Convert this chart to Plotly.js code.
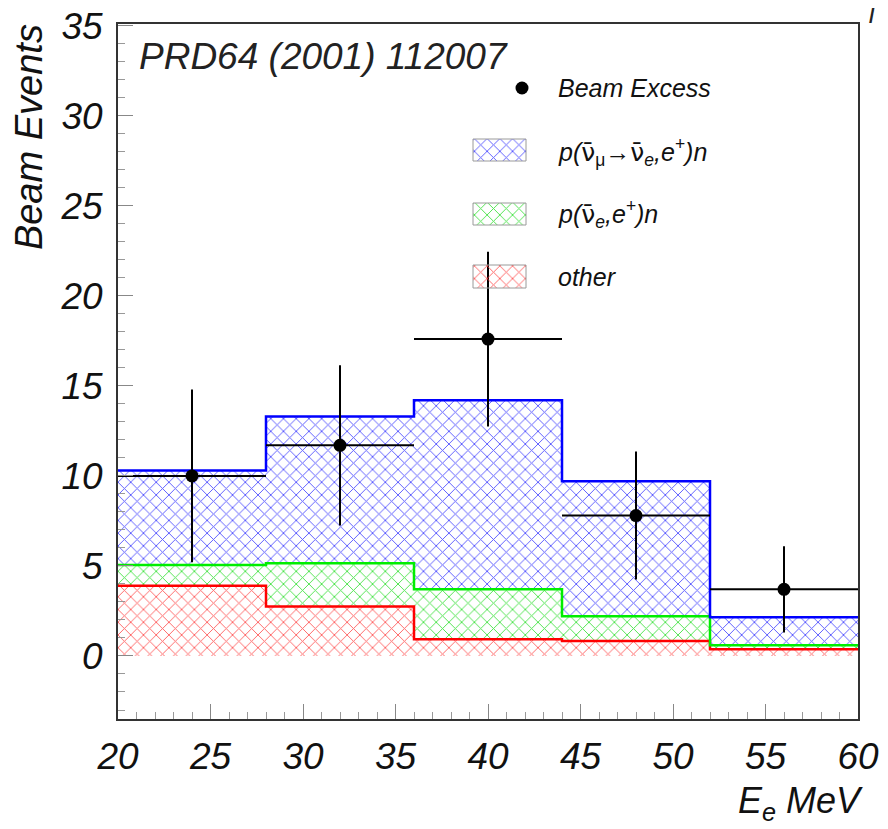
<!DOCTYPE html>
<html>
<head>
<meta charset="utf-8">
<script src="https://cdn.plot.ly/plotly-3.0.1.min.js"></script>
<style>html,body{margin:0;padding:0;background:#fff;} #plot{width:888px;height:829px;}</style>
</head>
<body>
<div id="plot"></div>
<script>
// ---- data ----
var binEdges   = [20, 28, 36, 44, 52, 60];                 // E_e bin edges, MeV
var excessE    = [24, 32, 40, 48, 56];                     // bin centres
var excessY    = [10.0, 11.7, 17.6, 7.8, 3.7];             // beam excess
var excessErr  = [4.8, 4.45, 4.85, 3.55, 2.4];             // vertical errors
var excessXErr = [4, 4, 4, 4, 4];                          // half bin widths
var totalY     = [10.3, 13.3, 14.2, 9.7, 2.15];            // p(nubar_mu->nubar_e,e+)n stacked top
var nueY       = [5.05, 5.15, 3.7, 2.2, 0.6];              // p(nubar_e,e+)n stacked top
var otherY     = [3.9, 2.75, 0.93, 0.83, 0.38];            // other
var NU = '<span style="font-family:DejaVu Sans;font-style:normal">\u03BD\u0304</span>';
var labels = ['Beam Excess',
  'p(' + NU + '<sub><span style="font-style:normal">\u03BC</span></sub>\u2192' + NU + '<sub>e</sub>,e<sup>+</sup>)n',
  'p(' + NU + '<sub>e</sub>,e<sup>+</sup>)n',
  'other'];

function stepY(v){ return v.concat([v[v.length-1]]); }

var FONT = 'Liberation Sans, Arial, Helvetica, sans-serif';
var hatch = {
  blue:  {shape:'x', fgcolor:'rgba(60,60,255,0.85)', bgcolor:'rgba(255,255,255,0)', size:9, solidity:0.2},
  green: {shape:'x', fgcolor:'rgba(30,220,30,0.8)', bgcolor:'rgba(255,255,255,0)', size:9, solidity:0.2},
  red:   {shape:'x', fgcolor:'rgba(255,60,60,0.8)', bgcolor:'rgba(255,255,255,0)', size:9, solidity:0.2}
};

var traces = [
  {x:binEdges, y:stepY(otherY), type:'scatter', mode:'lines', line:{shape:'hv', color:'#ff0000', width:2.5},
   fill:'tozeroy', fillcolor:'rgba(0,0,0,0)', fillpattern:hatch.red, hoverinfo:'skip'},
  {x:binEdges, y:stepY(nueY), type:'scatter', mode:'lines', line:{shape:'hv', color:'#00ee00', width:2.5},
   fill:'tonexty', fillcolor:'rgba(0,0,0,0)', fillpattern:hatch.green, hoverinfo:'skip'},
  {x:binEdges, y:stepY(totalY), type:'scatter', mode:'lines', line:{shape:'hv', color:'#0000ff', width:2.5},
   fill:'tonexty', fillcolor:'rgba(0,0,0,0)', fillpattern:hatch.blue, hoverinfo:'skip'},
  {x:excessE, y:excessY, type:'scatter', mode:'markers', marker:{color:'#000', size:13},
   error_y:{type:'data', array:excessErr, color:'#000', thickness:2, width:0},
   error_x:{type:'data', array:excessXErr, color:'#000', thickness:2, width:0}}
];

// ---- hand-built legend on an overlay axis in pixel units ----
var LX0 = 473, LX1 = 526, TX = 556;
var boxes = [
  {y0:139, y1:161, pat:hatch.blue},
  {y0:203, y1:225, pat:hatch.green},
  {y0:265, y1:288, pat:hatch.red}
];
boxes.forEach(function(b){
  traces.push({x:[LX0,LX1,LX1,LX0,LX0], y:[b.y0,b.y0,b.y1,b.y1,b.y0], xaxis:'x2', yaxis:'y2',
    type:'scatter', mode:'lines', fill:'toself', fillcolor:'rgba(0,0,0,0)', fillpattern:b.pat,
    line:{color:'#9a9a9a', width:1}, hoverinfo:'skip'});
});
traces.push({x:[522], y:[88], xaxis:'x2', yaxis:'y2', type:'scatter', mode:'markers',
  marker:{color:'#000', size:13}, hoverinfo:'skip'});

var legY = [88, 152, 214, 277];
var annotations = labels.map(function(t, i){
  return {xref:'x2', yref:'y2', x:TX, y:legY[i], xanchor:'left', yanchor:'middle', showarrow:false,
    text:t, font:{family:FONT, size:25, color:'#111', style:'italic'}};
});
annotations.push({xref:'paper', yref:'paper', x:0.025, y:0.953, xanchor:'left', yanchor:'middle', showarrow:false,
  text:'PRD64 (2001) 112007', font:{family:FONT, size:37, color:'#222', style:'italic'}});
annotations.push({xref:'paper', yref:'paper', x:-0.12, y:1.003, xanchor:'center', yanchor:'top', showarrow:false,
  textangle:-90, text:'Beam Events', font:{family:FONT, size:38, color:'#111', style:'italic'}});
annotations.push({xref:'paper', yref:'paper', x:1.01, y:-0.085, xanchor:'right', yanchor:'top', showarrow:false,
  text:'E<sub>e</sub> MeV', font:{family:FONT, size:36, color:'#111', style:'italic'}});
annotations.push({xref:'paper', yref:'paper', x:1.019, y:1.0115, xanchor:'center', yanchor:'middle', showarrow:false,
  text:'<b>/</b>', font:{family:FONT, size:20, color:'#222'}});

var layout = {
  width:888, height:829,
  margin:{l:118, r:30, t:24, b:110},
  paper_bgcolor:'#fff', plot_bgcolor:'#fff',
  showlegend:false,
  xaxis:{range:[20,60], dtick:5, tick0:20, ticks:'inside', ticklen:15, tickwidth:1, tickcolor:'#888',
    showline:true, linecolor:'#333', linewidth:2, mirror:true, showgrid:false, zeroline:false,
    minor:{dtick:1, ticks:'inside', ticklen:7, tickcolor:'#999', showgrid:false},
    tickfont:{family:FONT, size:37, color:'#111', style:'italic'}, ticklabelstandoff:4},
  yaxis:{range:[-3.5,35.1], dtick:5, tick0:0, ticks:'inside', ticklen:15, tickwidth:1, tickcolor:'#888',
    showline:true, linecolor:'#333', linewidth:2, mirror:true, showgrid:false, zeroline:false,
    minor:{dtick:1, ticks:'inside', ticklen:7, tickcolor:'#999', showgrid:false},
    tickfont:{family:FONT, size:37, color:'#111', style:'italic'}, ticklabelstandoff:6},
  xaxis2:{overlaying:'x', range:[118,858], visible:false, fixedrange:true},
  yaxis2:{overlaying:'y', range:[719,24], visible:false, fixedrange:true},
  annotations:annotations
};

Plotly.newPlot('plot', traces, layout, {staticPlot:true});
</script>
</body>
</html>
